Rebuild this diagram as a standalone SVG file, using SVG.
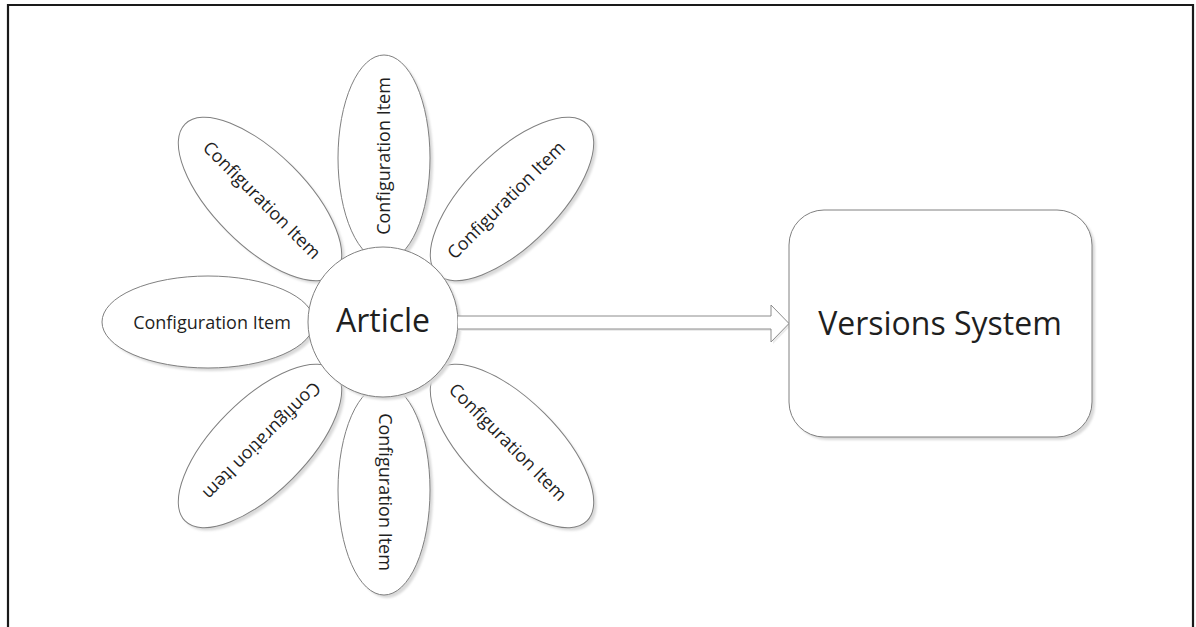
<svg xmlns="http://www.w3.org/2000/svg" width="1196" height="627" viewBox="0 0 1196 627">
  <style>
    .shape { fill: #ffffff; stroke: #808080; stroke-width: 1; }
    .shadow { fill: #d9d9d9; stroke: none; }
    .petal-text { font-family: "Open Sans", "Liberation Sans", sans-serif; font-size: 18px; fill: #1f1f1f; text-anchor: middle; }
    .big-text { font-family: "Open Sans", "Liberation Sans", sans-serif; font-size: 32px; fill: #1f1f1f; text-anchor: middle; }
  </style>
  <defs>
    <filter id="soft" x="-20%" y="-20%" width="140%" height="140%">
      <feGaussianBlur stdDeviation="1.2"/>
    </filter>
  </defs>
  <rect x="0" y="0" width="1196" height="627" fill="#ffffff"/>
  <path d="M8,628 V5 H1193 V628" fill="none" stroke="#1a1a1a" stroke-width="2.2"/>

  <g id="petal-left">
    <ellipse class="shadow" filter="url(#soft)" cx="211" cy="325" rx="106" ry="46"/>
    <ellipse class="shape" cx="208" cy="322" rx="106" ry="46"/>
    <text class="petal-text" transform="translate(212,323)" dy="0.35em">Configuration Item</text>
  </g>
  <g id="petal-upper-left">
    <ellipse class="shadow" filter="url(#soft)" cx="263" cy="202" rx="106" ry="46" transform="rotate(45 263 202)"/>
    <ellipse class="shape" cx="260" cy="199" rx="106" ry="46" transform="rotate(45 260 199)"/>
    <text class="petal-text" transform="translate(262,200) rotate(45)" dy="0.35em">Configuration Item</text>
  </g>
  <g id="petal-top">
    <ellipse class="shadow" filter="url(#soft)" cx="387" cy="161" rx="46" ry="103"/>
    <ellipse class="shape" cx="384" cy="158" rx="46" ry="103"/>
    <text class="petal-text" transform="translate(384,156) rotate(-90)" dy="0.35em">Configuration Item</text>
  </g>
  <g id="petal-upper-right">
    <ellipse class="shadow" filter="url(#soft)" cx="515" cy="202" rx="106" ry="46" transform="rotate(-45 515 202)"/>
    <ellipse class="shape" cx="512" cy="199" rx="106" ry="46" transform="rotate(-45 512 199)"/>
    <text class="petal-text" transform="translate(506,200) rotate(-45)" dy="0.35em">Configuration Item</text>
  </g>
  <g id="petal-lower-left">
    <ellipse class="shadow" filter="url(#soft)" cx="263" cy="449" rx="106" ry="46" transform="rotate(-45 263 449)"/>
    <ellipse class="shape" cx="260" cy="446" rx="106" ry="46" transform="rotate(-45 260 446)"/>
    <text class="petal-text" transform="translate(262,441) rotate(135)" dy="0.35em">Configuration Item</text>
  </g>
  <g id="petal-bottom">
    <ellipse class="shadow" filter="url(#soft)" cx="387" cy="493" rx="46" ry="105"/>
    <ellipse class="shape" cx="384" cy="490" rx="46" ry="105"/>
    <text class="petal-text" transform="translate(385,492) rotate(90)" dy="0.35em">Configuration Item</text>
  </g>
  <g id="petal-lower-right">
    <ellipse class="shadow" filter="url(#soft)" cx="515" cy="449" rx="106" ry="46" transform="rotate(45 515 449)"/>
    <ellipse class="shape" cx="512" cy="446" rx="106" ry="46" transform="rotate(45 512 446)"/>
    <text class="petal-text" transform="translate(508,442) rotate(45)" dy="0.35em">Configuration Item</text>
  </g>

  <g id="article">
    <circle class="shadow" filter="url(#soft)" cx="386" cy="325" r="75"/>
    <circle class="shape" cx="383" cy="322" r="75"/>
    <text class="big-text" x="383" y="332">Article</text>
  </g>

  <g id="connectors">
    <path d="M460,318 H773 V307 L791,325.5 L773,344 V331 H460 Z" fill="#ebebeb" stroke="none"/>
    <path d="M458,316 H771 V305 L789,323.5 L771,342 V329 H458" fill="#ffffff" stroke="#8c8c8c" stroke-width="1"/>
  </g>

  <g id="versions-system">
    <rect class="shadow" filter="url(#soft)" x="792" y="213" width="303" height="227" rx="35" ry="35"/>
    <rect class="shape" x="789" y="210" width="303" height="227" rx="35" ry="35"/>
    <text class="big-text" x="940" y="335">Versions System</text>
  </g>
</svg>
